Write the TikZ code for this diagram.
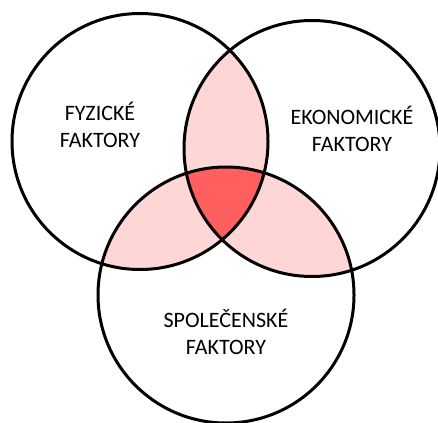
\documentclass[tikz,border=0pt]{standalone}
\usepackage{fontspec}
\setmainfont{Carlito}
\definecolor{lenspink}{HTML}{FFD6D6}
\definecolor{corered}{HTML}{FF5F5F}
\begin{document}
\begin{tikzpicture}[x=1pt,y=-1pt,
  ring/.style={draw=black,line width=3pt},
  lbl/.style={align=center,font=\fontsize{22}{27}\selectfont,inner sep=0pt}]
\useasboundingbox (0,0) rectangle (438,422);
% circle centres and radius
\coordinate (pA) at (140,141.5);
\coordinate (pB) at (312,148.5);
\coordinate (pC) at (226,295);
\def\rr{128}
% pairwise overlaps
\begin{scope}
  \clip (pA) circle (\rr);
  \fill[lenspink] (pB) circle (\rr);
  \fill[lenspink] (pC) circle (\rr);
\end{scope}
\begin{scope}
  \clip (pB) circle (\rr);
  \fill[lenspink] (pC) circle (\rr);
\end{scope}
% common core
\begin{scope}
  \clip (pA) circle (\rr);
  \clip (pB) circle (\rr);
  \fill[corered] (pC) circle (\rr);
\end{scope}
% outlines
\draw[ring] (pA) circle (\rr);
\draw[ring] (pB) circle (\rr);
\draw[ring] (pC) circle (\rr);
% labels
\node[lbl] (tA) at (100,124.5) {FYZICKÉ\\FAKTORY};
\node[lbl] (tB) at (352,129) {EKONOMICKÉ\\FAKTORY};
\node[lbl] (tC) at (226,332) {SPOLEČENSKÉ\\FAKTORY};
\end{tikzpicture}
\end{document}
